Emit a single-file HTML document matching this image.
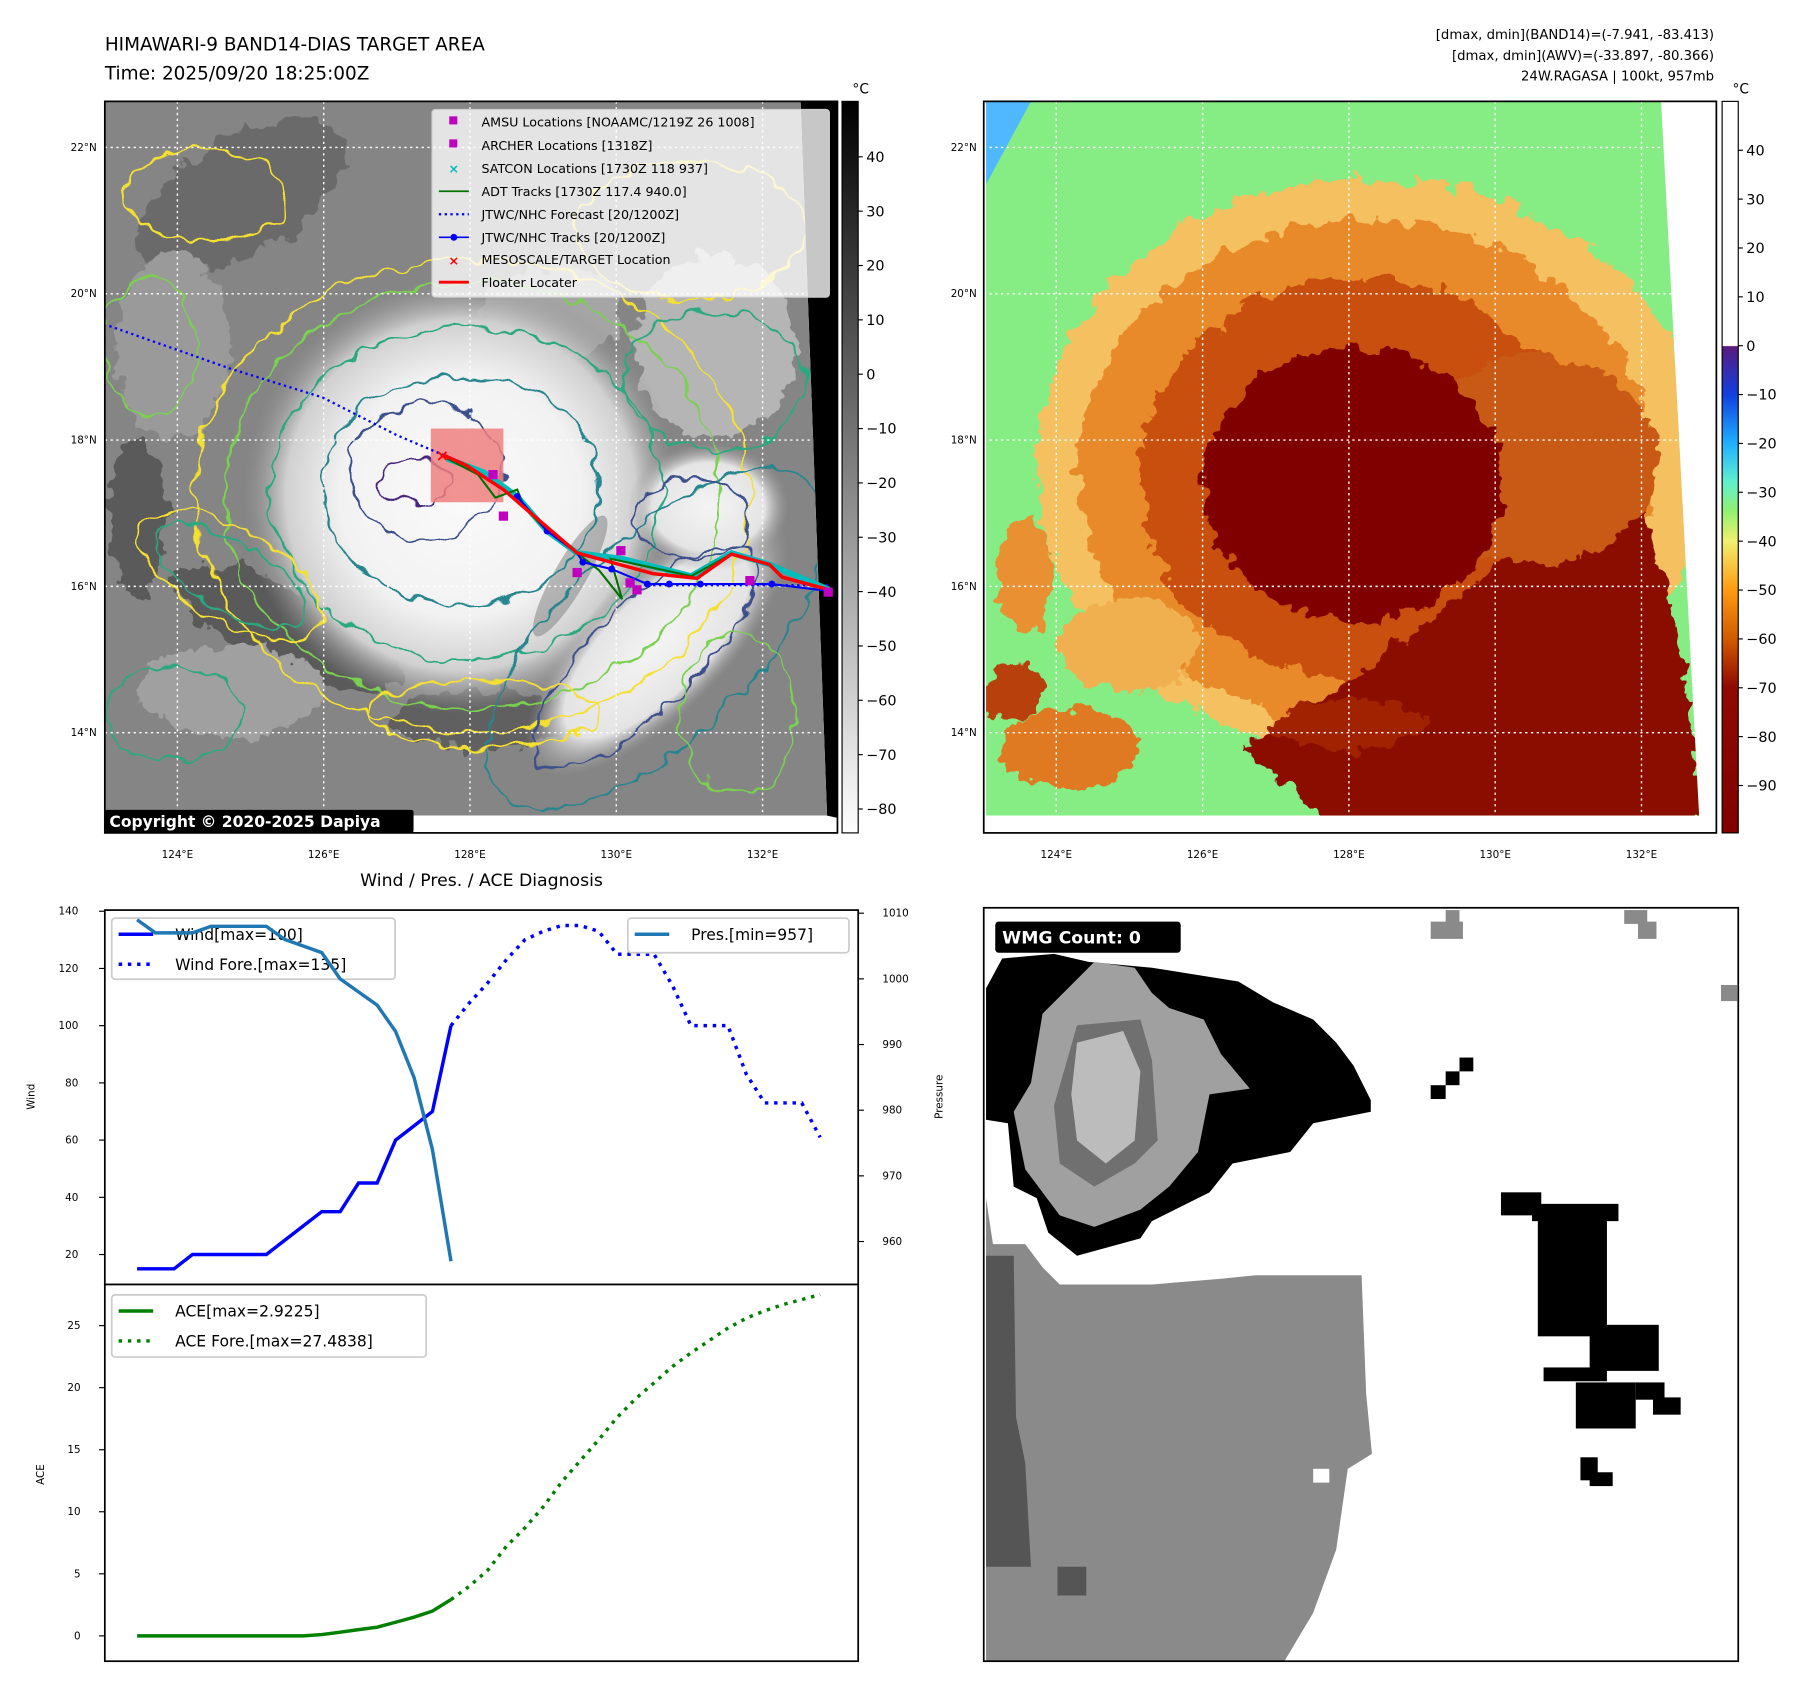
<!DOCTYPE html>
<html><head><meta charset="utf-8"><style>
html,body{margin:0;padding:0;background:#fff;}
svg{display:block;font-family:"DejaVu Sans","Liberation Sans",sans-serif;}
</style></head><body>
<svg id="root" width="1797" height="1690" viewBox="0 0 1560 1467" preserveAspectRatio="none" xmlns="http://www.w3.org/2000/svg">
<defs>
<filter id="wig" x="-10%" y="-10%" width="120%" height="120%"><feTurbulence type="fractalNoise" baseFrequency="0.05" numOctaves="2" seed="3"/><feDisplacementMap in="SourceGraphic" scale="18" xChannelSelector="R" yChannelSelector="G"/></filter>
<filter id="wig2" x="-10%" y="-10%" width="120%" height="120%"><feTurbulence type="fractalNoise" baseFrequency="0.06" numOctaves="3" seed="7"/><feDisplacementMap in="SourceGraphic" scale="24" xChannelSelector="R" yChannelSelector="G"/></filter>
<radialGradient id="eyeG" cx="400" cy="430" r="190" gradientUnits="userSpaceOnUse"><stop offset="0" stop-color="#fafafa"/><stop offset="0.55" stop-color="#f2f2f2"/><stop offset="0.8" stop-color="#d0d0d0"/><stop offset="1" stop-color="#909090" stop-opacity="0"/></radialGradient>
<radialGradient id="bandG" cx="0.5" cy="0.5" r="0.5"><stop offset="0" stop-color="#f4f4f4"/><stop offset="0.7" stop-color="#e4e4e4"/><stop offset="1" stop-color="#a0a0a0" stop-opacity="0"/></radialGradient>
<linearGradient id="cb1" x1="0" y1="0" x2="0" y2="1"><stop offset="0" stop-color="#000"/><stop offset="1" stop-color="#fff"/></linearGradient>
<linearGradient id="cb2" x1="0" y1="0" x2="0" y2="1"><stop offset="0" stop-color="#fff"/><stop offset="0.334" stop-color="#fff"/><stop offset="0.335" stop-color="#5a1a80"/><stop offset="0.401" stop-color="#1040e0"/><stop offset="0.468" stop-color="#20b0ff"/><stop offset="0.52" stop-color="#60f0d0"/><stop offset="0.56" stop-color="#90f070"/><stop offset="0.601" stop-color="#f0f070"/><stop offset="0.668" stop-color="#ff9a10"/><stop offset="0.735" stop-color="#d05a00"/><stop offset="0.80" stop-color="#900a00"/><stop offset="1" stop-color="#800000"/></linearGradient>
<clipPath id="c1"><polygon points="91,88 695,88 718,708 91,708"/></clipPath>
<clipPath id="c2"><polygon points="856,88 1442,88 1475,708 856,708"/></clipPath>
</defs>

<text x="91" y="44" font-size="16">HIMAWARI-9 BAND14-DIAS TARGET AREA</text>
<text x="91" y="69" font-size="16">Time: 2025/09/20 18:25:00Z</text>
<g font-size="11.5" text-anchor="end">
<text x="1488" y="34">[dmax, dmin](BAND14)=(-7.941, -83.413)</text>
<text x="1488" y="52">[dmax, dmin](AWV)=(-33.897, -80.366)</text>
<text x="1488" y="70">24W.RAGASA | 100kt, 957mb</text>
</g>

<!-- TOP LEFT MAP -->
<g>
<rect x="91" y="88" width="636" height="635" fill="#fff"/>
<polygon points="695,88 727,88 727,710 718,708" fill="#000"/>
<g clip-path="url(#c1)">
<rect x="91" y="88" width="636" height="620" fill="#858585"/>
<g filter="url(#wig2)">
<ellipse cx="210" cy="170" rx="100" ry="50" fill="#6a6a6a" transform="rotate(-30 210 170)"/>
<ellipse cx="250" cy="545" rx="110" ry="35" fill="#5a5a5a" transform="rotate(25 250 545)"/>
<ellipse cx="420" cy="625" rx="80" ry="25" fill="#606060"/>
<ellipse cx="120" cy="450" rx="25" ry="70" fill="#5a5a5a"/>
<ellipse cx="480" cy="270" rx="60" ry="40" fill="#a5a5a5"/>
<ellipse cx="620" cy="300" rx="70" ry="80" fill="#b5b5b5"/>
<ellipse cx="200" cy="600" rx="80" ry="40" fill="#a0a0a0"/>
<ellipse cx="150" cy="300" rx="50" ry="80" fill="#9a9a9a"/>
</g>
<circle cx="400" cy="430" r="190" fill="url(#eyeG)"/>
<ellipse cx="570" cy="560" rx="150" ry="60" fill="url(#bandG)" transform="rotate(-45 570 560)"/>
<ellipse cx="615" cy="440" rx="70" ry="55" fill="url(#bandG)"/>
<ellipse cx="495" cy="500" rx="14" ry="60" fill="#707070" opacity="0.45" transform="rotate(30 495 500)"/>
<g fill="none" stroke-width="1.8" filter="url(#wig)">
<ellipse cx="410" cy="430" rx="240" ry="205" stroke="#f5e030"/>
<ellipse cx="410" cy="430" rx="215" ry="185" stroke="#7ad050"/>
<ellipse cx="405" cy="428" rx="170" ry="145" stroke="#2aa880"/>
<ellipse cx="400" cy="425" rx="120" ry="100" stroke="#25858e"/>
<ellipse cx="370" cy="410" rx="68" ry="58" stroke="#3b4f8c"/>
<ellipse cx="360" cy="418" rx="30" ry="20" stroke="#47257c"/>
<ellipse cx="560" cy="570" rx="130" ry="45" stroke="#3b4f8c" transform="rotate(-45 560 570)"/>
<ellipse cx="570" cy="555" rx="190" ry="85" stroke="#25858e" transform="rotate(-45 570 555)"/>
<ellipse cx="600" cy="450" rx="50" ry="35" stroke="#3b4f8c"/>
<ellipse cx="200" cy="500" rx="90" ry="40" stroke="#f5e030" transform="rotate(30 200 500)"/>
<ellipse cx="200" cy="500" rx="75" ry="30" stroke="#2aa880" transform="rotate(30 200 500)"/>
<ellipse cx="180" cy="170" rx="70" ry="40" stroke="#f5e030"/>
<ellipse cx="130" cy="300" rx="40" ry="60" stroke="#7ad050"/>
<ellipse cx="420" cy="620" rx="100" ry="30" stroke="#f5e030"/>
<ellipse cx="150" cy="620" rx="60" ry="40" stroke="#2aa880"/>
<ellipse cx="640" cy="620" rx="50" ry="70" stroke="#7ad050"/>
<ellipse cx="620" cy="330" rx="80" ry="60" stroke="#2aa880"/>
<ellipse cx="600" cy="200" rx="100" ry="60" stroke="#f5e030"/>
</g>
<g stroke="#fff" stroke-dasharray="2,3" stroke-width="1.2">
<line x1="154" y1="88" x2="154" y2="708"/><line x1="281" y1="88" x2="281" y2="708"/><line x1="408" y1="88" x2="408" y2="708"/><line x1="535" y1="88" x2="535" y2="708"/><line x1="662" y1="88" x2="662" y2="708"/>
<line x1="91" y1="128" x2="727" y2="128"/><line x1="91" y1="255" x2="727" y2="255"/><line x1="91" y1="382" x2="727" y2="382"/><line x1="91" y1="509" x2="727" y2="509"/><line x1="91" y1="636" x2="727" y2="636"/>
</g>
</g>
<g>
<rect x="374" y="372" width="63" height="64" fill="#f08080" opacity="0.85"/>
<polyline points="95,283 200,320 280,345 345,378 385,395" fill="none" stroke="#0000ff" stroke-width="2" stroke-dasharray="2,3"/>
<polyline points="562,508 720,508" fill="none" stroke="#0000ff" stroke-width="2" stroke-dasharray="2,3"/>
<polyline points="388,398 420,410 449,431 475,461 501,480 540,485 600,500 635,480 668,490 720,512" fill="none" stroke="#00bcbc" stroke-width="5"/>
<polyline points="388,398 415,412 430,432 449,425 455,440 475,461 501,480 520,495 540,520 530,485 600,500 635,481 668,490 679,501 720,512" fill="none" stroke="#007000" stroke-width="1.8"/>
<polyline points="449,431 475,461 501,480 506,488 531,494 562,507 581,507 608,507 670,507 719,513" fill="none" stroke="#0000ff" stroke-width="1.8"/>
<g fill="#0000ff"><circle cx="449" cy="431" r="3"/><circle cx="475" cy="461" r="3"/><circle cx="506" cy="488" r="3"/><circle cx="531" cy="494" r="3"/><circle cx="562" cy="507" r="3"/><circle cx="581" cy="507" r="3"/><circle cx="608" cy="507" r="3"/><circle cx="670" cy="507" r="3"/><circle cx="719" cy="513" r="3"/></g>
<polyline points="385,395 405,404 437,425 501,480 567,498 605,502 635,481 668,490 679,501 720,512" fill="none" stroke="#ff0000" stroke-width="3"/>
<g fill="#c000c0"><rect x="433" y="444" width="8" height="8"/><rect x="497" y="493" width="8" height="8"/><rect x="535" y="474" width="8" height="8"/><rect x="543" y="502" width="8" height="8"/><rect x="549" y="508" width="8" height="8"/><rect x="647" y="500" width="8" height="8"/><rect x="715" y="510" width="8" height="8"/><rect x="424" y="408" width="8" height="8"/></g>
<text x="384" y="400" fill="#ff0000" font-size="14" font-weight="bold" text-anchor="middle">×</text>
</g>
<rect x="91" y="703" width="268" height="20" rx="2" fill="#000"/>
<text x="95" y="718" fill="#fff" font-size="13.5" font-weight="bold">Copyright © 2020-2025 Dapiya</text>
<rect x="91" y="88" width="636" height="635" fill="none" stroke="#000" stroke-width="1.5"/>
<g font-size="11">
<rect x="375" y="95" width="345" height="163" rx="3" fill="#fff" fill-opacity="0.78" stroke="#ccc"/>
<rect x="390" y="101" width="7" height="7" fill="#c000c0"/><text x="418" y="110">AMSU Locations [NOAAMC/1219Z 26 1008]</text>
<rect x="390" y="121" width="7" height="7" fill="#c000c0"/><text x="418" y="130">ARCHER Locations [1318Z]</text>
<text x="394" y="150" fill="#00bcbc" text-anchor="middle" font-weight="bold">×</text><text x="418" y="150">SATCON Locations [1730Z 118 937]</text>
<line x1="381" y1="166" x2="407" y2="166" stroke="#007000" stroke-width="1.5"/><text x="418" y="170">ADT Tracks [1730Z 117.4 940.0]</text>
<line x1="381" y1="186" x2="407" y2="186" stroke="#0000ff" stroke-width="2" stroke-dasharray="2,3"/><text x="418" y="190">JTWC/NHC Forecast [20/1200Z]</text>
<line x1="381" y1="206" x2="407" y2="206" stroke="#0000ff" stroke-width="1.5"/><circle cx="394" cy="206" r="3" fill="#0000ff"/><text x="418" y="210">JTWC/NHC Tracks [20/1200Z]</text>
<text x="394" y="230" fill="#ff0000" text-anchor="middle" font-weight="bold">×</text><text x="418" y="229">MESOSCALE/TARGET Location</text>
<line x1="381" y1="245" x2="407" y2="245" stroke="#ff0000" stroke-width="2.5"/><text x="418" y="249">Floater Locater</text>
</g>
<g font-size="9">
<text x="154" y="745" text-anchor="middle">124°E</text><text x="281" y="745" text-anchor="middle">126°E</text><text x="408" y="745" text-anchor="middle">128°E</text><text x="535" y="745" text-anchor="middle">130°E</text><text x="662" y="745" text-anchor="middle">132°E</text>
<text x="84" y="131" text-anchor="end">22°N</text><text x="84" y="258" text-anchor="end">20°N</text><text x="84" y="385" text-anchor="end">18°N</text><text x="84" y="512" text-anchor="end">16°N</text><text x="84" y="639" text-anchor="end">14°N</text>
</g>
</g>
<g>
<rect x="731" y="88" width="14" height="635" fill="url(#cb1)" stroke="#000" stroke-width="1"/>
<text x="740" y="81" font-size="12">°C</text>
<g font-size="12.5" id="cb1ticks"></g>
</g>

<!-- TOP RIGHT MAP -->
<g>
<rect x="854" y="88" width="636" height="635" fill="#fff"/>
<g clip-path="url(#c2)">
<rect x="854" y="88" width="636" height="620" fill="#86ec84"/>
<polygon points="856,88 895,88 856,160" fill="#50b8ff"/>
<g filter="url(#wig2)">
<ellipse cx="1190" cy="405" rx="290" ry="250" fill="#f4c060"/>
<ellipse cx="1185" cy="410" rx="250" ry="220" fill="#e88a2a"/>
<ellipse cx="1180" cy="415" rx="190" ry="175" fill="#c85010"/>
<polygon points="1080,650 1200,570 1330,470 1410,380 1460,560 1480,720 1160,720" fill="#8a0c00"/>
<ellipse cx="1330" cy="400" rx="110" ry="90" fill="#c85a18"/>
<ellipse cx="1175" cy="420" rx="130" ry="118" fill="#800000"/>
<ellipse cx="890" cy="500" rx="25" ry="50" fill="#e89030"/>
<ellipse cx="930" cy="650" rx="60" ry="35" fill="#e07a20"/>
<ellipse cx="880" cy="600" rx="25" ry="25" fill="#b84010"/>
<ellipse cx="1170" cy="630" rx="70" ry="20" fill="#a02000"/>
<ellipse cx="980" cy="560" rx="60" ry="40" fill="#f0b050"/>
</g>
<g stroke="#fff" stroke-dasharray="2,3" stroke-width="1.2">
<line x1="917" y1="88" x2="917" y2="708"/><line x1="1044" y1="88" x2="1044" y2="708"/><line x1="1171" y1="88" x2="1171" y2="708"/><line x1="1298" y1="88" x2="1298" y2="708"/><line x1="1425" y1="88" x2="1425" y2="708"/>
<line x1="854" y1="128" x2="1490" y2="128"/><line x1="854" y1="255" x2="1490" y2="255"/><line x1="854" y1="382" x2="1490" y2="382"/><line x1="854" y1="509" x2="1490" y2="509"/><line x1="854" y1="636" x2="1490" y2="636"/>
</g>
</g>
<rect x="854" y="88" width="636" height="635" fill="none" stroke="#000" stroke-width="1.5"/>
<g font-size="9">
<text x="917" y="745" text-anchor="middle">124°E</text><text x="1044" y="745" text-anchor="middle">126°E</text><text x="1171" y="745" text-anchor="middle">128°E</text><text x="1298" y="745" text-anchor="middle">130°E</text><text x="1425" y="745" text-anchor="middle">132°E</text>
<text x="848" y="131" text-anchor="end">22°N</text><text x="848" y="258" text-anchor="end">20°N</text><text x="848" y="385" text-anchor="end">18°N</text><text x="848" y="512" text-anchor="end">16°N</text><text x="848" y="639" text-anchor="end">14°N</text>
</g>
</g>
<g>
<rect x="1495" y="88" width="14" height="635" fill="url(#cb2)" stroke="#000" stroke-width="1"/>
<text x="1504" y="81" font-size="12">°C</text>
<g font-size="12.5" id="cb2ticks"></g>
</g>

<!-- BOTTOM RIGHT -->
<g>
<rect x="854" y="788" width="655" height="654" fill="#fff"/>
<polygon points="856,858 870,832 915,828 945,835 1000,840 1075,852 1105,870 1140,885 1160,905 1175,925 1190,955 1190,965 1140,975 1120,1000 1070,1010 1050,1035 1000,1060 990,1075 935,1090 910,1070 900,1040 880,1030 875,975 856,972" fill="#000"/>
<polygon points="905,880 925,860 950,835 985,840 1000,862 1015,875 1045,885 1060,915 1085,945 1050,950 1040,1000 1015,1030 990,1050 950,1065 920,1055 890,1015 880,965 895,940" fill="#a0a0a0"/>
<polygon points="935,890 990,885 1000,920 1005,990 985,1010 950,1030 920,1010 915,960" fill="#707070"/>
<polygon points="935,905 975,895 990,930 985,990 960,1010 935,990 930,950" fill="#bcbcbc"/>
<polygon points="856,1040 862,1080 890,1080 905,1100 920,1115 1000,1115 1060,1110 1090,1107 1182,1107 1186,1210 1191,1262 1170,1275 1165,1310 1160,1345 1140,1400 1115,1442 856,1442" fill="#8a8a8a"/>
<polygon points="856,1090 880,1090 882,1230 890,1270 895,1360 856,1360" fill="#555"/>
<rect x="918" y="1360" width="25" height="25" fill="#555"/>
<rect x="1140" y="1275" width="14" height="12" fill="#fff"/>
<g fill="#000"><rect x="1303" y="1035" width="35" height="20"/><rect x="1330" y="1045" width="75" height="15"/><rect x="1335" y="1055" width="60" height="105"/><rect x="1380" y="1150" width="60" height="40"/><rect x="1340" y="1187" width="55" height="12"/><rect x="1368" y="1200" width="52" height="40"/><rect x="1420" y="1200" width="25" height="15"/><rect x="1435" y="1213" width="24" height="15"/><rect x="1372" y="1265" width="15" height="20"/><rect x="1380" y="1278" width="20" height="12"/><rect x="1242" y="942" width="13" height="12"/><rect x="1255" y="930" width="12" height="12"/><rect x="1267" y="918" width="12" height="12"/></g>
<g fill="#8a8a8a"><rect x="1242" y="800" width="28" height="15"/><rect x="1255" y="790" width="12" height="12"/><rect x="1410" y="790" width="20" height="12"/><rect x="1422" y="800" width="16" height="15"/><rect x="1494" y="855" width="14" height="14"/></g>
<rect x="854" y="788" width="655" height="654" fill="none" stroke="#000" stroke-width="1.5"/>
<rect x="864" y="800" width="161" height="27" rx="3" fill="#000"/>
<text x="870" y="819" fill="#fff" font-size="15" font-weight="bold">WMG Count: 0</text>
</g>

<text x="418" y="769" font-size="15" text-anchor="middle">Wind / Pres. / ACE Diagnosis</text>
<g id="charts"></g>
</svg>
<script>
// ---- chart data ----
var windObs = [15,15,15,20,20,20,20,20,25,30,35,35,45,45,60,65,70,100];
var windFore = [100,108,115,123,130,133,135,135,133,125,125,125,114,100,100,100,83,73,73,73,61];
var presObs = [1009,1007,1007,1007,1008,1008,1008,1008,1006,1005,1004,1000,998,996,992,985,974,957];
var aceObs = [0,0,0,0,0,0,0,0,0,0,0.1,0.3,0.5,0.7,1.1,1.5,2.0,2.92];
var aceFore = [2.92,4.0,5.3,7.2,8.7,10.4,12.4,14.1,15.8,17.6,19.1,20.4,21.7,22.8,23.8,24.8,25.6,26.2,26.7,27.1,27.5];
var windTicks = [20,40,60,80,100,120,140];
var presTicks = [960,970,980,990,1000,1010];
var aceTicks = [0,5,10,15,20,25];
var cb1Ticks = [40,30,20,10,0,-10,-20,-30,-40,-50,-60,-70,-80];
var cb2Ticks = [40,30,20,10,0,-10,-20,-30,-40,-50,-60,-70,-80,-90];
var foreStart = 17;

var NS = 'http://www.w3.org/2000/svg';
function mk(tag, attrs, parent){var e=document.createElementNS(NS,tag);for(var k in attrs)e.setAttribute(k,attrs[k]);parent.appendChild(e);return e;}
function fmt(v){return v<0?'\u2212'+(-v):''+v;}
var nTotal = foreStart + windFore.length - 1;
function xs(i){return 119 + i*(712-119)/nTotal;}
function yW(v){return 791 + (140-v)*(1089-791)/120;}
function yP(v){return 792.7 + (1010-v)*(1077.7-792.7)/50;}
function yA(v){return 1420 - v*(1420-1150.7)/25;}
function pts(arr, off, fy){return arr.map(function(v,i){return xs(i+off).toFixed(1)+','+fy(v).toFixed(1);}).join(' ');}

var g = document.getElementById('charts');
mk('rect',{x:91,y:790,width:654,height:325,fill:'#fff',stroke:'#000','stroke-width':1.5},g);
mk('rect',{x:91,y:1115,width:654,height:327,fill:'#fff',stroke:'#000','stroke-width':1.5},g);
windTicks.forEach(function(t){var y=yW(t);
 var l=mk('line',{x1:86,y1:y,x2:91,y2:y,stroke:'#000'},g);
 
 
 var tx=mk('text',{x:68,y:y+3,'font-size':9,'text-anchor':'end'},g);tx.textContent=t;
 
 });
presTicks.forEach(function(t){var y=yP(t);
 mk('line',{x1:745,y1:y,x2:750,y2:y,stroke:'#000'},g);
 var tx=mk('text',{x:766,y:y+3,'font-size':9},g);tx.textContent=t;
 
 });
aceTicks.forEach(function(t){var y=yA(t);
 mk('line',{x1:86,y1:y,x2:91,y2:y,stroke:'#000'},g);
 var tx=mk('text',{x:70,y:y+3,'font-size':9,'text-anchor':'end'},g);tx.textContent=t;
 
 });
var yl=mk('text',{x:30,y:952,'font-size':9,'text-anchor':'middle',transform:'rotate(-90 30 952)'},g);yl.textContent='Wind';


var pl=mk('text',{x:818,y:952,'font-size':9,'text-anchor':'middle',transform:'rotate(-90 818 952)'},g);pl.textContent='Pressure';


var al=mk('text',{x:38,y:1280,'font-size':9,'text-anchor':'middle',transform:'rotate(-90 38 1280)'},g);al.textContent='ACE';



function legend(x,y,w,h,items,name){var lg=mk('g',{},g);
 
 
 mk('rect',{x:x,y:y,width:w,height:h,rx:3,fill:'#fff','fill-opacity':0.8,stroke:'#ccc','stroke-width':1.5},lg);
 items.forEach(function(it,i){var yy=y+14+i*26;
  var a={x1:x+6,y1:yy,x2:x+36,y2:yy,stroke:it[1],'stroke-width':3};if(it[2])a['stroke-dasharray']='3,5';
  mk('line',a,lg);var t=mk('text',{x:x+55,y:yy+5,'font-size':13.5},lg);t.textContent=it[0];});}

var w1=mk('polyline',{points:pts(windObs,0,yW),fill:'none',stroke:'#0000ff','stroke-width':3},g);


var w2=mk('polyline',{points:pts(windFore,foreStart,yW),fill:'none',stroke:'#0000ff','stroke-width':3,'stroke-dasharray':'3,5'},g);


legend(97,797,246,53,[['Wind[max=100]','#0000ff',0],['Wind Fore.[max=135]','#0000ff',1]],'wind-legend');
var p1=mk('polyline',{points:pts(presObs,0,yP),fill:'none',stroke:'#1f77b4','stroke-width':3},g);


legend(545,797,192,30,[['Pres.[min=957]','#1f77b4',0]],'pressure-legend');
var a1=mk('polyline',{points:pts(aceObs,0,yA),fill:'none',stroke:'#008000','stroke-width':3},g);


var a2=mk('polyline',{points:pts(aceFore,foreStart,yA),fill:'none',stroke:'#008000','stroke-width':3,'stroke-dasharray':'3,5'},g);


legend(97,1124,273,54,[['ACE[max=2.9225]','#008000',0],['ACE Fore.[max=27.4838]','#008000',1]],'ace-legend');

function cbTicks(id,ticks,x,top,bot,vtop,vbot){var gg=document.getElementById(id);
 ticks.forEach(function(t){var y=top+(vtop-t)*(bot-top)/(vtop-vbot);
  mk('line',{x1:x,y1:y,x2:x+4,y2:y,stroke:'#000'},gg);
  var tx=mk('text',{x:x+7,y:y+4.5},gg);tx.textContent=fmt(t);});}
cbTicks('cb1ticks',cb1Ticks,745,88,723,50.2,-84.4);
cbTicks('cb2ticks',cb2Ticks,1509,88,723,50,-99.7);
</script>
</body></html>
